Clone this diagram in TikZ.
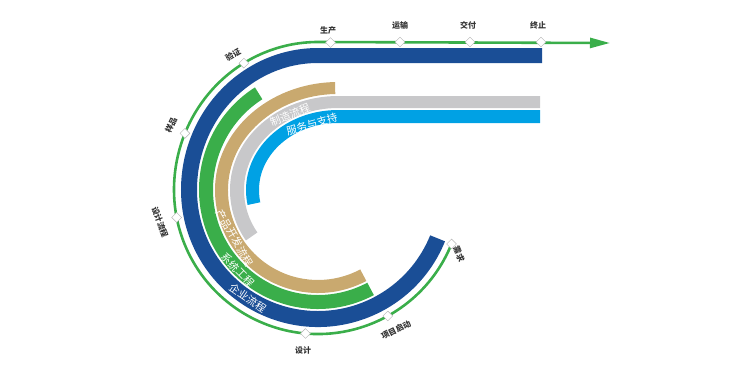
\documentclass[tikz,border=0pt]{standalone}
\usepackage{fontspec}
\newfontfamily\cjk{Noto Sans CJK SC}
\usetikzlibrary{shapes.geometric,arrows.meta}
\definecolor{qblue}{HTML}{1A4E96}
\definecolor{qgreen}{HTML}{3AAE4A}
\definecolor{qtan}{HTML}{C9A96F}
\definecolor{qgray}{HTML}{C8C8CA}
\definecolor{qsky}{HTML}{00A1E4}

\begin{document}
\begin{tikzpicture}[x=1pt,y=1pt,
  dot/.style={draw=black!30,fill=white,diamond,aspect=1,inner sep=0pt,minimum size=10pt,line width=0.4pt},
  tag/.style={font=\cjk\bfseries\fontsize{8}{9}\selectfont,text=black!80,inner sep=0pt},
  band/.style={font=\cjk\fontsize{10.5}{11}\selectfont,text=white,inner sep=0pt}]
  \useasboundingbox (-318,-178) rectangle (426,190);
  \fill[qblue] (-22:137) arc[start angle=-22,end angle=-180,radius=137]
    arc[start angle=180,end angle=90,x radius=137,y radius=142] -- (224,142) -- (224,127) -- (0,127)
    arc[start angle=90,end angle=180,x radius=121,y radius=127]
    arc[start angle=-180,end angle=-22,radius=121] -- cycle;
  \fill[qgreen] (-62:119) arc[start angle=-62,end angle=-180,radius=119]
    arc[start angle=180,end angle=122,x radius=119,y radius=121] -- (122:105 and 107)
    arc[start angle=122,end angle=180,x radius=105,y radius=107]
    arc[start angle=-180,end angle=-62,radius=105] -- cycle;
  \fill[qtan] (-62:103) arc[start angle=-62,end angle=-180,radius=103]
    arc[start angle=180,end angle=91.4,x radius=123,y radius=108] -- (17.3,96)
    arc[start angle=91.4,end angle=180,x radius=110,y radius=96]
    arc[start angle=-180,end angle=-62,radius=90] -- cycle;
  \fill[qgray] (-145:88) arc[start angle=-145,end angle=-180,radius=88]
    arc[start angle=180,end angle=90,x radius=108,y radius=94] -- (222,94) -- (222,82) -- (20,82)
    arc[start angle=90,end angle=180,x radius=94,y radius=82]
    arc[start angle=-180,end angle=-145,radius=74] -- cycle;
  \fill[qsky] (192:72) arc[start angle=192,end angle=180,radius=72]
    arc[start angle=180,end angle=90,x radius=92,y radius=80] -- (222,80) -- (222,67) -- (20,67)
    arc[start angle=90,end angle=180,x radius=79,y radius=67]
    arc[start angle=180,end angle=192,radius=59] -- cycle;

  \coordinate (go) at (-22:144);
  \coordinate (tip) at (292,147);
  \draw[qgreen,line width=2.6pt,-{Triangle[length=20pt,width=10pt]}] (go)
    arc[start angle=-22,end angle=-180,radius=144]
    arc[start angle=180,end angle=90,x radius=144,y radius=148] -- (tip);

  \node[dot] (0) at (-22:144) {};
  \node[dot] (1) at (-61:144) {};
  \node[dot] (2) at (-95:144) {};
  \node[dot] (3) at (191:144) {};
  \node[dot] (4) at (157.5:144 and 148) {};
  \node[dot] (5) at (121:144 and 148) {};
  \node[dot] (6) at (85:144 and 148) {};
  \node[dot] (7) at (82,148) {};
  \node[dot] (8) at (152,148) {};
  \node[dot] (9) at (223,148) {};

  \node[tag,rotate=-68] (t0) at (141,-64) {需求};
  \node[tag,rotate=27] (t1) at (78,-140) {项目启动};
  \node[tag] (t2) at (-15,-160) {设计};
  \node[tag,rotate=-70] (t3) at (-158,-32) {设计流程};
  \node[tag,rotate=65] (t4) at (-147,65) {样品};
  \node[tag,rotate=30] (t5) at (-85,135) {验证};
  \node[tag] (t6) at (10,160) {生产};
  \node[tag] (t7) at (82,165) {运输};
  \node[tag] (t8) at (150,165) {交付};
  \node[tag] (t9) at (220,165) {终止};

  \node[band,rotate=-34] (b1) at (-123:129) {企业流程};
  \node[band,rotate=-45] (b2) at (-135:113) {系统工程};
  \node[band,rotate=-60] (b3) at (-150:96) {产品开发流程};
  \node[band,rotate=22] (b4) at (-28,75) {制造流程};
  \node[band,rotate=16] (b5) at (-6,66) {服务与支持};
\end{tikzpicture}
\end{document}
